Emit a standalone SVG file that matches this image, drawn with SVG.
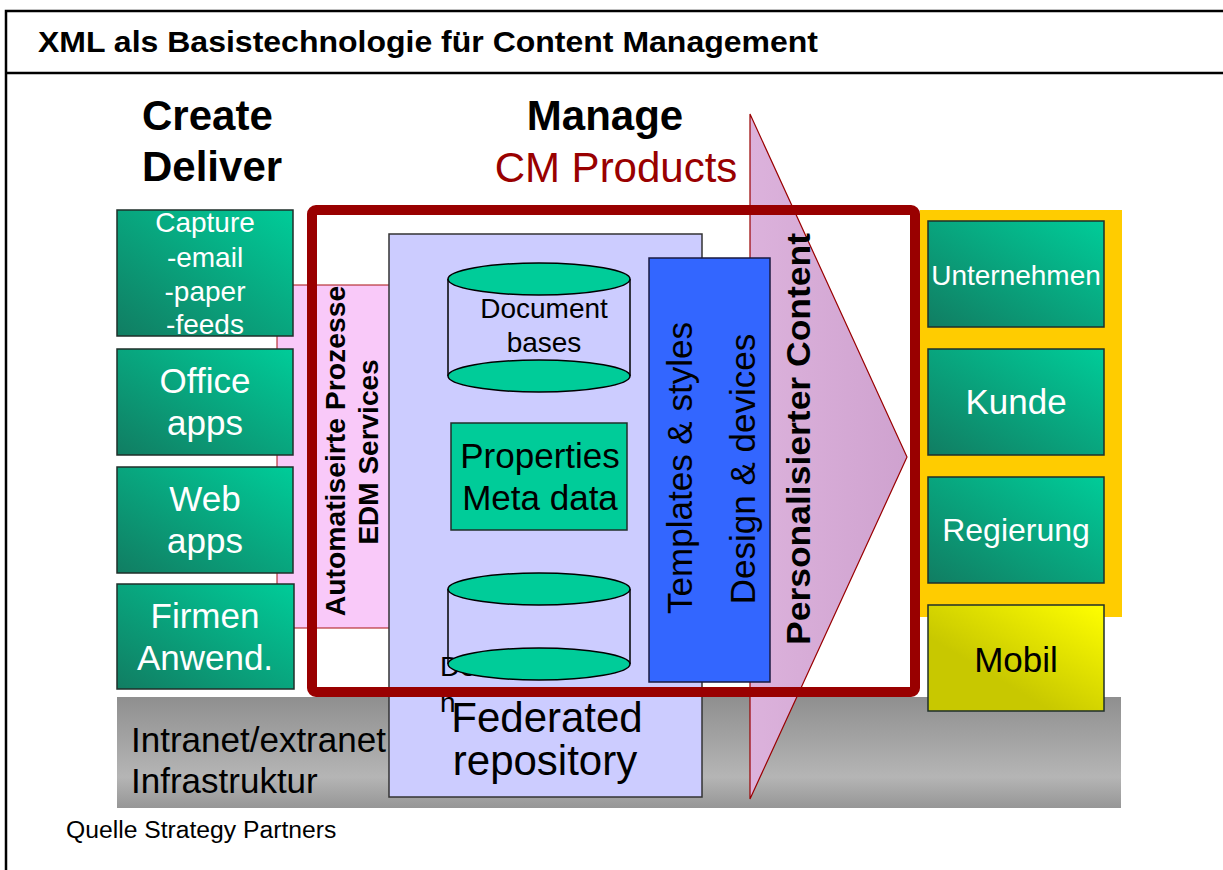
<svg xmlns="http://www.w3.org/2000/svg" width="1223" height="870" viewBox="0 0 1223 870">
  <defs>
    <linearGradient id="gGreen" x1="0" y1="1" x2="1" y2="0">
      <stop offset="0" stop-color="#117d62"/>
      <stop offset="1" stop-color="#00cc99"/>
    </linearGradient>
    <linearGradient id="gYellow" x1="0" y1="1" x2="1" y2="0">
      <stop offset="0.35" stop-color="#c8c800"/>
      <stop offset="1" stop-color="#ffff00"/>
    </linearGradient>
    <linearGradient id="gGrey" x1="0" y1="0" x2="0" y2="1">
      <stop offset="0" stop-color="#8f8f8f"/>
      <stop offset="0.72" stop-color="#b5b5b5"/>
      <stop offset="1" stop-color="#969696"/>
    </linearGradient>
    <linearGradient id="gArrow" x1="0" y1="0" x2="1" y2="0">
      <stop offset="0" stop-color="#dcb2dc"/>
      <stop offset="1" stop-color="#cfa2cf"/>
    </linearGradient>
    <style>
      text { font-family: "Liberation Sans", Arial, sans-serif; }
      .b { font-weight: bold; }
      .mid { text-anchor: middle; }
      .white { fill: #ffffff; }
      .box { fill: url(#gGreen); stroke: #1f2f2a; stroke-width: 1.5; }
      .disk { fill: #00cc99; stroke: #000; stroke-width: 1.5; }
      .edge { stroke: #000; stroke-width: 1.5; }
    </style>
  </defs>

  <rect x="0" y="0" width="1223" height="870" fill="#ffffff"/>

  <!-- page frame and title bar -->
  <g id="frame" fill="none" stroke="#000" stroke-width="2.5">
    <path d="M6,870 V11 H1223"/>
    <path d="M6,73 H1223"/>
  </g>
  <text x="38" y="52" class="b" font-size="30" textLength="780" lengthAdjust="spacingAndGlyphs">XML als Basistechnologie für Content Management</text>

  <!-- column headings -->
  <g id="headings">
    <text x="142" y="130" class="b" font-size="42">Create</text>
    <text x="142" y="181" class="b" font-size="42">Deliver</text>
    <text x="605" y="130" class="b mid" font-size="42">Manage</text>
    <text x="616" y="182" class="mid" font-size="42" fill="#990000">CM Products</text>
  </g>

  <!-- infrastructure band -->
  <g id="infrastructure">
    <rect x="117" y="697" width="1004" height="111" fill="url(#gGrey)"/>
    <text x="131" y="752" font-size="35">Intranet/extranet</text>
    <text x="131" y="793" font-size="35">Infrastruktur</text>
  </g>

  <!-- EDM services strip -->
  <g id="edm-services">
    <rect x="277" y="285" width="113" height="343" fill="#f9c9f9" stroke="#aa1111" stroke-width="1"/>
  </g>

  <!-- federated repository -->
  <g id="repository">
    <rect x="389" y="234" width="313" height="563" fill="#ccccff" stroke="#333" stroke-width="1.5"/>
    <text x="547" y="732" class="mid" font-size="42">Federated</text>
    <text x="545" y="775" class="mid" font-size="42">repository</text>
  </g>

  <g id="document-bases">
    <line x1="448" y1="279" x2="448" y2="376" class="edge"/>
    <line x1="630" y1="279" x2="630" y2="376" class="edge"/>
    <ellipse cx="539" cy="376" rx="91" ry="16" class="disk"/>
    <ellipse cx="539" cy="279" rx="91" ry="16" class="disk"/>
    <text x="544" y="318" class="mid" font-size="28">Document</text>
    <text x="544" y="352" class="mid" font-size="28">bases</text>
  </g>

  <g id="properties">
    <rect x="451" y="423" width="176" height="107" fill="#00cc99" stroke="#1f2f2a" stroke-width="1.5"/>
    <text x="540" y="468" class="mid" font-size="35">Properties</text>
    <text x="540" y="510" class="mid" font-size="35">Meta data</text>
  </g>

  <g id="second-store">
    <text x="440" y="676" font-size="28">Do</text>
    <text x="440" y="712" font-size="28">n</text>
    <line x1="448" y1="589" x2="448" y2="664" class="edge"/>
    <line x1="630" y1="589" x2="630" y2="664" class="edge"/>
    <ellipse cx="539" cy="664" rx="91" ry="16" class="disk"/>
    <ellipse cx="539" cy="589" rx="91" ry="16" class="disk"/>
  </g>

  <!-- delivery arrow -->
  <g id="connectors">
    <path id="personalised-arrow" d="M750,114 L907,457 L750,799 Z" fill="url(#gArrow)" stroke="#990000" stroke-width="1.2"/>
  </g>
  <text transform="translate(810,439) rotate(-90)" class="b mid" font-size="34" textLength="412" lengthAdjust="spacingAndGlyphs">Personalisierter Content</text>

  <!-- templates -->
  <g id="templates">
    <rect x="649" y="258" width="121" height="424" fill="#3366ff" stroke="#1a1a40" stroke-width="1.5"/>
    <text transform="translate(692,468) rotate(-90)" class="mid" font-size="35">Templates &amp; styles</text>
    <text transform="translate(755,469) rotate(-90)" class="mid" font-size="35">Design &amp; devices</text>
  </g>

  <!-- CM product boundary -->
  <g id="cm-products">
    <rect x="312" y="210" width="603" height="482" rx="4" fill="none" stroke="#990000" stroke-width="10"/>
  </g>

  <g id="edm-labels">
    <text transform="translate(345,451) rotate(-90)" class="b mid" font-size="28.3">Automatiseirte Prozesse</text>
    <text transform="translate(378,452) rotate(-90)" class="b mid" font-size="28">EDM Services</text>
  </g>

  <!-- sources -->
  <g id="capture">
    <rect x="117" y="210" width="176" height="126" class="box"/>
    <text x="205" y="232" class="mid white" font-size="28">Capture</text>
    <text x="205" y="267" class="mid white" font-size="28">-email</text>
    <text x="205" y="301" class="mid white" font-size="28">-paper</text>
    <text x="205" y="334" class="mid white" font-size="28">-feeds</text>
  </g>
  <g id="office-apps">
    <rect x="117" y="349" width="176" height="106" class="box"/>
    <text x="205" y="393" class="mid white" font-size="35">Office</text>
    <text x="205" y="435" class="mid white" font-size="35">apps</text>
  </g>
  <g id="web-apps">
    <rect x="117" y="467" width="176" height="106" class="box"/>
    <text x="205" y="511" class="mid white" font-size="35">Web</text>
    <text x="205" y="553" class="mid white" font-size="35">apps</text>
  </g>
  <g id="firmen-anwend">
    <rect x="117" y="584" width="177" height="105" class="box"/>
    <text x="205" y="628" class="mid white" font-size="35">Firmen</text>
    <text x="205" y="670" class="mid white" font-size="35">Anwend.</text>
  </g>

  <!-- audiences -->
  <g id="audiences">
    <rect x="920" y="210" width="202" height="407" fill="#ffcc00"/>
  </g>
  <g id="unternehmen">
    <rect x="928" y="221" width="176" height="106" class="box"/>
    <text x="1016" y="285" class="mid white" font-size="28">Unternehmen</text>
  </g>
  <g id="kunde">
    <rect x="928" y="349" width="176" height="106" class="box"/>
    <text x="1016" y="414" class="mid white" font-size="35">Kunde</text>
  </g>
  <g id="regierung">
    <rect x="928" y="477" width="176" height="106" class="box"/>
    <text x="1016" y="541" class="mid white" font-size="32">Regierung</text>
  </g>
  <g id="mobil">
    <rect x="928" y="605" width="176" height="106" fill="url(#gYellow)" stroke="#1f2f2a" stroke-width="1.5"/>
    <text x="1016" y="672" class="mid" font-size="35">Mobil</text>
  </g>

  <text x="66" y="838" font-size="24.7">Quelle Strategy Partners</text>
</svg>
